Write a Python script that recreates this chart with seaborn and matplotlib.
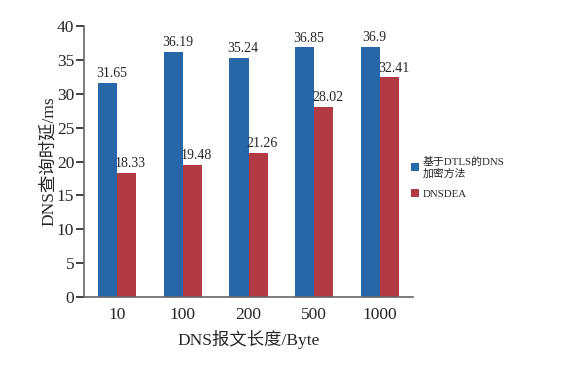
import matplotlib
matplotlib.use('Agg')
import matplotlib.pyplot as plt
import numpy as np
import pandas as pd
import seaborn as sns

# DNS query latency vs. message length
lengths = ['10', '100', '200', '500', '1000']
dtls_vals = [31.65, 36.19, 35.24, 36.85, 36.9]
dnsdea_vals = [18.33, 19.48, 21.26, 28.02, 32.41]
series_names = ['基于DTLS的DNS\n加密方法', 'DNSDEA']
colors = ['#2767a8', '#b13a44']

df = pd.DataFrame({
    'length': lengths * 2,
    'latency': dtls_vals + dnsdea_vals,
    'method': [series_names[0]] * len(lengths) + [series_names[1]] * len(lengths),
})

sns.set_style('white')
plt.rcParams['font.family'] = ['Liberation Serif', 'Noto Sans CJK SC']

fig = plt.figure(figsize=(5.67, 3.68), dpi=100)
ax = fig.add_axes([84 / 567, 1 - 297 / 368, (413 - 84) / 567, (297 - 26) / 368])

sns.barplot(data=df, x='length', y='latency', hue='method', order=lengths,
            hue_order=series_names, palette=colors, saturation=1, width=0.58,
            ax=ax, errorbar=None, linewidth=0, edgecolor='none')

# value labels, a bit right of the bar centre like the original
for cont in ax.containers:
    for bar in cont:
        h = bar.get_height()
        ax.annotate('%g' % h, (bar.get_x() + bar.get_width() / 2, h),
                    xytext=(3, 2), textcoords='offset points',
                    ha='center', va='bottom', fontsize=10)

ax.set_ylim(0, 40)
ax.set_yticks(np.arange(0, 41, 5))
ax.set_xlim(-0.5, 4.5)
ax.set_xlabel('DNS报文长度/Byte', fontsize=12.5, labelpad=5)
ax.set_ylabel('DNS查询时延/ms', fontsize=12.5, labelpad=0)
ax.tick_params(axis='y', which='major', left=True, length=6, width=1.3,
               color='#333333', labelsize=12.5, pad=1)
ax.tick_params(axis='x', bottom=False, labelsize=12.5, pad=4)

for side in ['top', 'right']:
    ax.spines[side].set_visible(False)
for side in ['left', 'bottom']:
    ax.spines[side].set_color('#666666')
    ax.spines[side].set_linewidth(1.2)

ax.legend(loc='center left', bbox_to_anchor=(0.995, 0.44), frameon=False,
          fontsize=7.8, handlelength=0.75, handleheight=0.75, handletextpad=0.3,
          labelspacing=1.0, borderaxespad=0, borderpad=0)

fig.savefig('out.png', dpi=100)
